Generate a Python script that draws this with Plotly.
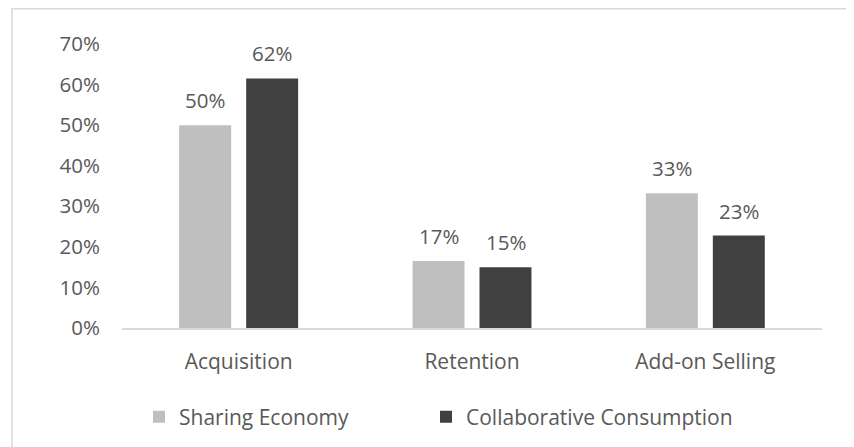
import plotly.graph_objects as go

categories = ["Acquisition", "Retention", "Add-on Selling"]
sharing_economy = [0.50, 0.165, 0.332]
collaborative_consumption = [0.615, 0.15, 0.228]
sharing_labels = ["50%", "17%", "33%"]
collab_labels = ["62%", "15%", "23%"]
series_names = ["Sharing Economy", "Collaborative Consumption"]

FONT = "Open Sans"
TXT = "#595959"
LIGHT = "#BFBFBF"
DARK = "#404040"
FS = 20.5
FS_WORDS = 21

fig = go.Figure()
fig.add_trace(go.Bar(x=categories, y=sharing_economy, name=series_names[0],
                     legend="legend",
                     marker=dict(color=LIGHT, line=dict(width=0))))
fig.add_trace(go.Bar(x=categories, y=collaborative_consumption, name=series_names[1],
                     legend="legend2",
                     marker=dict(color=DARK, line=dict(width=0))))

for vals, labels, shift in [(sharing_economy, sharing_labels, -33.5),
                            (collaborative_consumption, collab_labels, 33.5)]:
    for c, v, t in zip(categories, vals, labels):
        fig.add_annotation(x=c, y=v, text=t, showarrow=False, yanchor="bottom",
                           xshift=shift, yshift=9,
                           font=dict(family=FONT, size=FS, color=TXT))

# page body has an 8px margin, so the figure is 8px smaller on each axis
W, H = 846, 439
L, R, T, B = 114, 32, 36, 119
pw, ph = W - L - R, H - T - B
fig.add_shape(type="rect", xref="paper", yref="paper",
              x0=(4 - L) / pw, x1=(W + 10 - L) / pw,
              y0=-(B + 10) / ph, y1=1 + (T - 0.8) / ph,
              line=dict(color="#D9D9D9", width=1.5), layer="below")

leg_common = dict(orientation="h", xanchor="left", yanchor="middle",
                  y=-(409 - (H - B)) / ph,
                  font=dict(family=FONT, size=FS_WORDS, color=TXT),
                  itemwidth=30, bgcolor="rgba(0,0,0,0)")

fig.update_layout(
    width=W, height=H,
    margin=dict(l=L, r=R, t=T, b=B, autoexpand=False),
    paper_bgcolor="white", plot_bgcolor="white",
    barmode="group", bargap=0.426, bargroupgap=0.224,
    font=dict(family=FONT, size=FS, color=TXT),
    showlegend=True,
    legend=dict(x=(131 - L) / pw, **leg_common),
    legend2=dict(x=(418 - L) / pw, **leg_common),
    xaxis=dict(showgrid=False, showline=True, linecolor="#D9D9D9", linewidth=1.5,
               automargin=False,
               ticks="", ticklabelstandoff=14, tickfont=dict(size=FS_WORDS, color=TXT)),
    yaxis=dict(range=[0, 0.70], dtick=0.1, tickformat=".0%", showgrid=False,
               automargin=False,
               zeroline=False, showline=False, ticks="", ticklabelstandoff=21,
               tickfont=dict(size=FS, color=TXT)),
)

fig.write_html("out.html")
